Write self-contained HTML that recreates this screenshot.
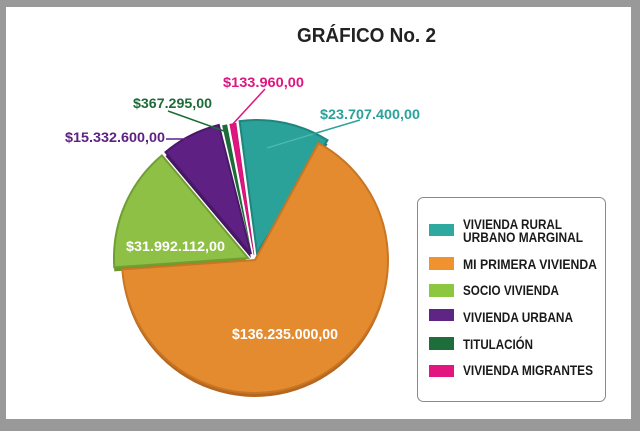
<!DOCTYPE html>
<html>
<head>
<meta charset="utf-8">
<style>
  html,body{margin:0;padding:0;background:#999999;}
  body{width:640px;height:431px;overflow:hidden;}
  svg{display:block;}
  text{font-family:"Liberation Sans",Arial,sans-serif;font-weight:bold;}
</style>
</head>
<body>
<svg width="640" height="431" viewBox="0 0 640 431" xmlns="http://www.w3.org/2000/svg">
  <rect x="0" y="0" width="640" height="431" fill="#999999"/>
  <rect x="6" y="7" width="625" height="412" fill="#ffffff"/>

  <!-- Title -->
  <text x="297" y="42" font-size="20" fill="#222222" textLength="139" lengthAdjust="spacingAndGlyphs">GRÁFICO No. 2</text>

  <!-- Pie sides (3D depth) -->
  <g transform="translate(0,4)">
    <path d="M257,253 L239.6,121.1 A133,133 0 0 1 327.5,140.2 Z" fill="#1c7a73"/>
    <path d="M255,260 L318.5,143.1 A133,133 0 1 1 122.3,269.3 Z" fill="#b5671f"/>
    <path d="M248,258 L114.3,267.4 A134,134 0 0 1 161.9,155.4 Z" fill="#6a982d"/>
    <path d="M251,254 L165.5,152.1 A133,133 0 0 1 218.8,125 Z" fill="#431460"/>
  </g>

  <!-- Teal -->
  <path d="M257,253 L239.6,121.1 A133,133 0 0 1 327.5,140.2 Z" fill="#2aa199" stroke="#1f857e" stroke-width="2"/>
  <!-- Orange -->
  <path d="M255,260 L318.5,143.1 A133,133 0 1 1 122.3,269.3 Z" fill="#e48b2f" stroke="#c87524" stroke-width="2"/>
  <!-- Purple -->
  <path d="M251,254 L165.5,152.1 A133,133 0 0 1 218.8,125 Z" fill="#5e2183" stroke="#4a1868" stroke-width="2"/>
  <!-- Dark green -->
  <path d="M252,255 L222.1,125.4 A133,133 0 0 1 227.1,124.4 Z" fill="#1d6b38"/>
  <!-- Pink -->
  <path d="M254,255 L229.8,124.2 A133,133 0 0 1 236,123.2 Z" fill="#e0157f" stroke="#b8106a" stroke-width="0.6"/>
  <!-- Green -->
  <path d="M248,258 L114.3,267.4 A134,134 0 0 1 161.9,155.4 Z" fill="#8ec045" stroke="#6f9e32" stroke-width="2"/>

  <!-- Leader lines -->
  <polyline points="360,120 313,134" fill="none" stroke="#2aa199" stroke-width="1.5"/>
  <polyline points="313,134 267,148" fill="none" stroke="#4fbab2" stroke-width="1.2"/>
  <line x1="265" y1="89" x2="231" y2="126" stroke="#e0157f" stroke-width="1.5"/>
  <line x1="168" y1="111" x2="224" y2="131" stroke="#1d6b38" stroke-width="1.5"/>
  <line x1="166" y1="139" x2="200" y2="139" stroke="#5e2183" stroke-width="1.5"/>

  <!-- Data labels -->
  <text x="223" y="87" font-size="14" fill="#e0157f" textLength="81" lengthAdjust="spacingAndGlyphs">$133.960,00</text>
  <text x="133" y="108" font-size="14" fill="#1d6b38" textLength="79" lengthAdjust="spacingAndGlyphs">$367.295,00</text>
  <text x="320" y="119" font-size="14" fill="#2aa199" textLength="100" lengthAdjust="spacingAndGlyphs">$23.707.400,00</text>
  <text x="65" y="142" font-size="14" fill="#5e2183" textLength="100" lengthAdjust="spacingAndGlyphs">$15.332.600,00</text>
  <text x="126" y="251" font-size="14" fill="#ffffff" textLength="99" lengthAdjust="spacingAndGlyphs">$31.992.112,00</text>
  <text x="232" y="339" font-size="14.5" fill="#ffffff" textLength="106" lengthAdjust="spacingAndGlyphs">$136.235.000,00</text>

  <!-- Legend -->
  <rect x="417.5" y="197.5" width="188" height="204" rx="6" ry="6" fill="#ffffff" stroke="#8a8a8a" stroke-width="1"/>
  <rect x="429" y="224" width="25" height="12" fill="#2ea9a0"/>
  <rect x="429" y="257" width="25" height="13" fill="#f0922f"/>
  <rect x="429" y="284" width="25" height="13" fill="#8dc63f"/>
  <rect x="429" y="309" width="25" height="12" fill="#5f2585"/>
  <rect x="429" y="337" width="25" height="13" fill="#1e6e3c"/>
  <rect x="429" y="365" width="25" height="12" fill="#e3167f"/>

  <g font-size="13.5" fill="#1a1a1a">
    <text x="463" y="229" textLength="99" lengthAdjust="spacingAndGlyphs">VIVIENDA RURAL</text>
    <text x="463" y="242" textLength="120" lengthAdjust="spacingAndGlyphs">URBANO MARGINAL</text>
    <text x="463" y="269" textLength="134" lengthAdjust="spacingAndGlyphs">MI PRIMERA VIVIENDA</text>
    <text x="463" y="295" textLength="96" lengthAdjust="spacingAndGlyphs">SOCIO VIVIENDA</text>
    <text x="463" y="322" textLength="110" lengthAdjust="spacingAndGlyphs">VIVIENDA URBANA</text>
    <text x="463" y="349" textLength="70" lengthAdjust="spacingAndGlyphs">TITULACIÓN</text>
    <text x="463" y="375" textLength="130" lengthAdjust="spacingAndGlyphs">VIVIENDA MIGRANTES</text>
  </g>
</svg>
</body>
</html>
